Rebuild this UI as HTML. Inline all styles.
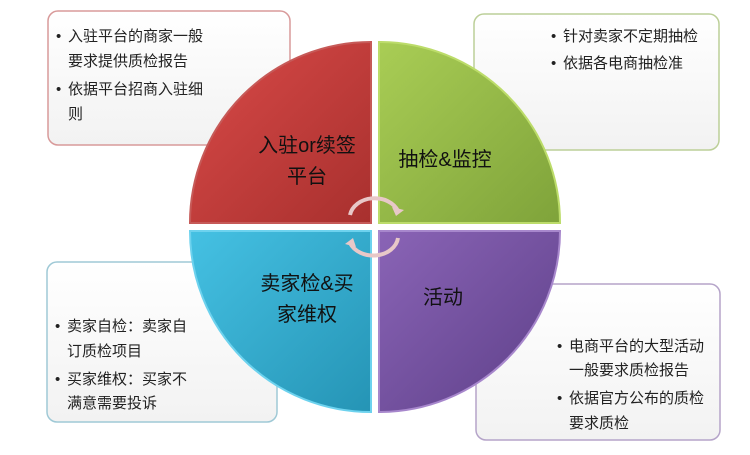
<!DOCTYPE html>
<html><head><meta charset="utf-8"><style>
body{margin:0;background:#fff;}
svg text{font-family:"Liberation Sans","Noto Sans CJK SC",sans-serif;}
</style></head><body>
<svg width="750" height="450" viewBox="0 0 750 450" xmlns="http://www.w3.org/2000/svg">
<defs>
<linearGradient id="gb" x1="0" y1="0" x2="0" y2="1"><stop offset="0" stop-color="#fff"/><stop offset="1" stop-color="#f2f2f2"/></linearGradient>
<linearGradient id="r" x1="0" y1="0" x2="1" y2="1"><stop offset="0" stop-color="#d94a48"/><stop offset="1" stop-color="#a8302e"/></linearGradient>
<linearGradient id="g" x1="0" y1="0" x2="1" y2="1"><stop offset="0" stop-color="#a9cd55"/><stop offset="1" stop-color="#7fa33a"/></linearGradient>
<linearGradient id="b" x1="0" y1="0" x2="1" y2="1"><stop offset="0" stop-color="#45c1e3"/><stop offset="1" stop-color="#2594b5"/></linearGradient>
<linearGradient id="p" x1="0" y1="0" x2="1" y2="1"><stop offset="0" stop-color="#8a64b6"/><stop offset="1" stop-color="#5d3f88"/></linearGradient>
</defs>
<g stroke-width="1.5" fill="url(#gb)">
<rect x="48" y="11" width="242" height="134" rx="10" stroke="#d89a9a"/>
<rect x="474" y="14" width="245" height="136" rx="10" stroke="#bccf98"/>
<rect x="47" y="262" width="230" height="160" rx="10" stroke="#9fc9d6"/>
<rect x="476" y="284" width="244" height="156" rx="10" stroke="#b5a4c9"/>
</g>
<g font-size="15" fill="#222">
<text x="56" y="41">•</text><text x="68" y="41">入驻平台的商家一般</text>
<text x="68" y="66">要求提供质检报告</text>
<text x="56" y="94">•</text><text x="68" y="94">依据平台招商入驻细</text>
<text x="68" y="119">则</text>
<text x="551" y="41">•</text><text x="563" y="41">针对卖家不定期抽检</text>
<text x="551" y="68">•</text><text x="563" y="68">依据各电商抽检准</text>
<text x="55" y="331">•</text><text x="67" y="331">卖家自检：卖家自</text>
<text x="67" y="356">订质检项目</text>
<text x="55" y="384">•</text><text x="67" y="384">买家维权：买家不</text>
<text x="67" y="408">满意需要投诉</text>
<text x="557" y="351">•</text><text x="569" y="351">电商平台的大型活动</text>
<text x="569" y="375">一般要求质检报告</text>
<text x="557" y="403">•</text><text x="569" y="403">依据官方公布的质检</text>
<text x="569" y="428">要求质检</text>
</g>
<g stroke-width="2">
<path d="M371 223 L190 223 A181 181 0 0 1 371 42 Z" fill="url(#r)" stroke="#c65a58"/>
<path d="M379 223 L379 42 A181 181 0 0 1 560 223 Z" fill="url(#g)" stroke="#bcdc6a"/>
<path d="M371 231 L190 231 A181 181 0 0 0 371 412 Z" fill="url(#b)" stroke="#6dd2ee"/>
<path d="M379 231 L560 231 A181 181 0 0 1 379 412 Z" fill="url(#p)" stroke="#a787cc"/>
</g>
<g font-size="20" fill="#111" text-anchor="middle">
<text x="307" y="152">入驻or续签</text>
<text x="307" y="183">平台</text>
<text x="445" y="166">抽检&amp;监控</text>
<text x="307" y="290">卖家检&amp;买</text>
<text x="307" y="321">家维权</text>
<text x="443" y="304">活动</text>
</g>
<g fill="none" stroke="#e8c8c8" stroke-width="4">
<path d="M350 215 A25 20 0 0 1 398 211"/>
<path d="M398 238 A25 20 0 0 1 350 243"/>
</g>
<g fill="#e8c8c8"><polygon points="392,207 404,210 396,216"/><polygon points="356,247 345,244 353,238"/></g>
</svg>
</body></html>
